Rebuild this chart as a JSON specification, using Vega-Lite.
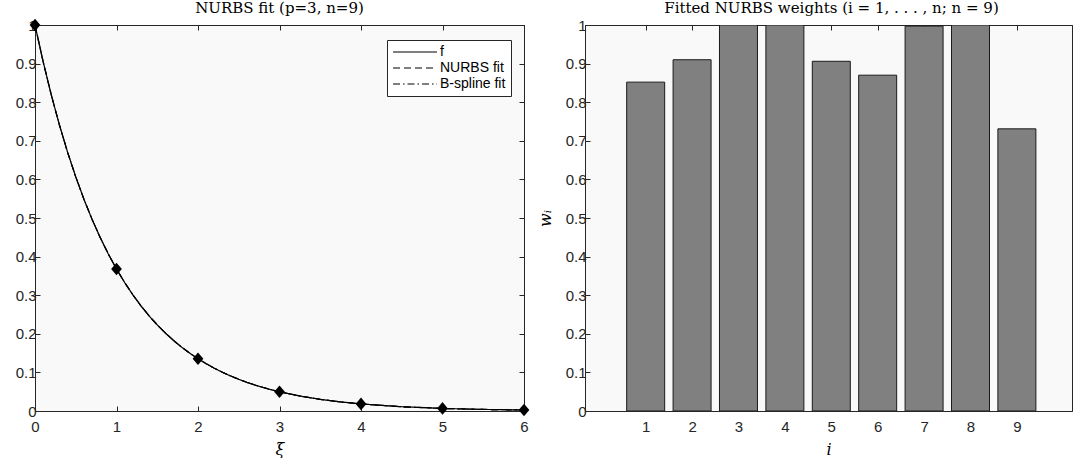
{
  "$schema": "https://vega.github.io/schema/vega-lite/v6.json",
  "background": "white",
  "padding": {"left": 14, "top": 0, "right": 0, "bottom": 0},
  "spacing": 61,
  "bounds": "flush",
  "datasets": {
    "curve": [
      {"x": 0, "y": 1}, {"x": 0.1, "y": 0.9048}, {"x": 0.2, "y": 0.8187}, {"x": 0.3, "y": 0.7408},
      {"x": 0.4, "y": 0.6703}, {"x": 0.5, "y": 0.6065}, {"x": 0.6, "y": 0.5488}, {"x": 0.7, "y": 0.4966},
      {"x": 0.8, "y": 0.4493}, {"x": 0.9, "y": 0.4066}, {"x": 1.0, "y": 0.3679}, {"x": 1.1, "y": 0.3329},
      {"x": 1.2, "y": 0.3012}, {"x": 1.3, "y": 0.2725}, {"x": 1.4, "y": 0.2466}, {"x": 1.5, "y": 0.2231},
      {"x": 1.6, "y": 0.2019}, {"x": 1.7, "y": 0.1827}, {"x": 1.8, "y": 0.1653}, {"x": 1.9, "y": 0.1496},
      {"x": 2.0, "y": 0.1353}, {"x": 2.1, "y": 0.1225}, {"x": 2.2, "y": 0.1108}, {"x": 2.3, "y": 0.1003},
      {"x": 2.4, "y": 0.0907}, {"x": 2.5, "y": 0.0821}, {"x": 2.6, "y": 0.0743}, {"x": 2.7, "y": 0.0672},
      {"x": 2.8, "y": 0.0608}, {"x": 2.9, "y": 0.055}, {"x": 3.0, "y": 0.0498}, {"x": 3.25, "y": 0.0388},
      {"x": 3.5, "y": 0.0302}, {"x": 3.75, "y": 0.0235}, {"x": 4.0, "y": 0.0183}, {"x": 4.5, "y": 0.0111},
      {"x": 5.0, "y": 0.0067}, {"x": 5.5, "y": 0.0041}, {"x": 6.0, "y": 0.0025}
    ],
    "knots": [
      {"x": 0, "y": 1}, {"x": 1, "y": 0.3679}, {"x": 2, "y": 0.1353}, {"x": 3, "y": 0.0498},
      {"x": 4, "y": 0.0183}, {"x": 5, "y": 0.0067}, {"x": 6, "y": 0.0025}
    ],
    "weights": [
      {"i": 1, "w": 0.852}, {"i": 2, "w": 0.91}, {"i": 3, "w": 1.0}, {"i": 4, "w": 1.0},
      {"i": 5, "w": 0.906}, {"i": 6, "w": 0.87}, {"i": 7, "w": 0.997}, {"i": 8, "w": 1.0}, {"i": 9, "w": 0.731}
    ]
  },
  "hconcat": [
    {
      "width": 489,
      "height": 386,
      "title": {"text": "NURBS fit (p=3, n=9)"},
      "layer": [
        {
          "data": {"name": "curve"},
          "mark": {"type": "line", "color": "black", "strokeWidth": 1.2},
          "encoding": {
            "x": {"field": "x", "type": "quantitative", "scale": {"domain": [0, 6], "nice": false},
                  "axis": {"orient": "bottom", "values": [0, 1, 2, 3, 4, 5, 6], "format": "d", "title": "ξ"}},
            "y": {"field": "y", "type": "quantitative", "scale": {"domain": [0, 1], "nice": false},
                  "axis": {"orient": "left", "values": [0, 0.1, 0.2, 0.3, 0.4, 0.5, 0.6, 0.7, 0.8, 0.9, 1], "format": "~g", "title": null}},
            "strokeDash": {"datum": "f", "type": "nominal",
              "scale": {"domain": ["f", "NURBS fit", "B-spline fit"], "range": [[1, 0], [7, 4], [7, 3, 1.5, 3]]},
              "legend": {"orient": "none", "legendX": 352, "legendY": 15}}
          }
        },
        {
          "data": {"name": "curve"},
          "mark": {"type": "line", "color": "black", "strokeWidth": 1.2},
          "encoding": {
            "x": {"field": "x", "type": "quantitative", "axis": null},
            "y": {"field": "y", "type": "quantitative", "axis": null},
            "strokeDash": {"datum": "NURBS fit", "type": "nominal", "legend": {"orient": "none", "legendX": 352, "legendY": 15}}
          }
        },
        {
          "data": {"name": "curve"},
          "mark": {"type": "line", "color": "black", "strokeWidth": 1.2},
          "encoding": {
            "x": {"field": "x", "type": "quantitative", "axis": null},
            "y": {"field": "y", "type": "quantitative", "axis": null},
            "strokeDash": {"datum": "B-spline fit", "type": "nominal", "legend": {"orient": "none", "legendX": 352, "legendY": 15}}
          }
        },
        {
          "data": {"name": "knots"},
          "mark": {"type": "point", "shape": "M-0.85,0L0,-1L0.85,0L0,1Z", "filled": true, "color": "black", "opacity": 1, "size": 160},
          "encoding": {
            "x": {"field": "x", "type": "quantitative",
                  "axis": {"orient": "top", "values": [0, 1, 2, 3, 4, 5, 6], "labels": false, "title": null}},
            "y": {"field": "y", "type": "quantitative",
                  "axis": {"orient": "right", "values": [0, 0.1, 0.2, 0.3, 0.4, 0.5, 0.6, 0.7, 0.8, 0.9, 1], "labels": false, "title": null}}
          }
        }
      ],
      "resolve": {"axis": {"x": "independent", "y": "independent"}}
    },
    {
      "width": 487,
      "height": 386,
      "title": {"text": "Fitted NURBS weights (i = 1, . . . , n; n = 9)", "dx": 3},
      "data": {"name": "weights"},
      "layer": [
        {
          "mark": {"type": "bar", "orient": "vertical", "width": 38, "fill": "#808080", "stroke": "#1a1a1a", "strokeWidth": 1, "clip": true},
          "encoding": {
            "x": {"field": "i", "type": "quantitative", "scale": {"domain": [-0.2, 10.08], "nice": false, "zero": false},
                  "axis": {"orient": "bottom", "values": [1, 2, 3, 4, 5, 6, 7, 8, 9], "format": "d", "title": "i"}},
            "y": {"field": "w", "type": "quantitative", "scale": {"domain": [0, 1], "nice": false},
                  "axis": {"orient": "left", "values": [0, 0.1, 0.2, 0.3, 0.4, 0.5, 0.6, 0.7, 0.8, 0.9, 1], "format": "~g", "title": "wᵢ", "titlePadding": 12}}
          }
        },
        {
          "mark": {"type": "point", "opacity": 0},
          "encoding": {
            "x": {"field": "i", "type": "quantitative",
                  "axis": {"orient": "top", "values": [1, 2, 3, 4, 5, 6, 7, 8, 9], "labels": false, "title": null}}
          }
        }
      ],
      "resolve": {"axis": {"x": "independent"}}
    }
  ],
  "config": {
    "view": {"fill": "#f9f9f9", "stroke": "#262626", "strokeWidth": 1},
    "axis": {
      "domainColor": "#262626", "tickColor": "#262626", "labelColor": "#262626",
      "labelFont": "Liberation Sans", "labelFontSize": 15, "tickSize": -5, "grid": false,
      "labelFlush": false, "labelOverlap": false,
      "titleFont": "DejaVu Serif", "titleFontStyle": "italic", "titleFontWeight": "normal",
      "titleFontSize": 16, "titleColor": "black"
    },
    "axisX": {"labelPadding": 13, "titlePadding": 7},
    "axisY": {"labelPadding": 4, "titlePadding": 8},
    "legend": {"title": null, "symbolType": "M-4.4,0H4.4", "symbolSize": 100,
               "symbolOffset": 16, "labelOffset": 18, "symbolStrokeColor": "black", "symbolStrokeWidth": 1,
               "labelFont": "Liberation Sans", "labelFontSize": 14, "labelColor": "black", "rowPadding": 2,
               "padding": 5, "strokeColor": "#262626", "fillColor": "white", "cornerRadius": 0, "labelLimit": 300},
    "title": {"font": "DejaVu Serif", "fontSize": 15, "fontWeight": "normal", "color": "black", "offset": 2, "anchor": "middle"}
  }
}
